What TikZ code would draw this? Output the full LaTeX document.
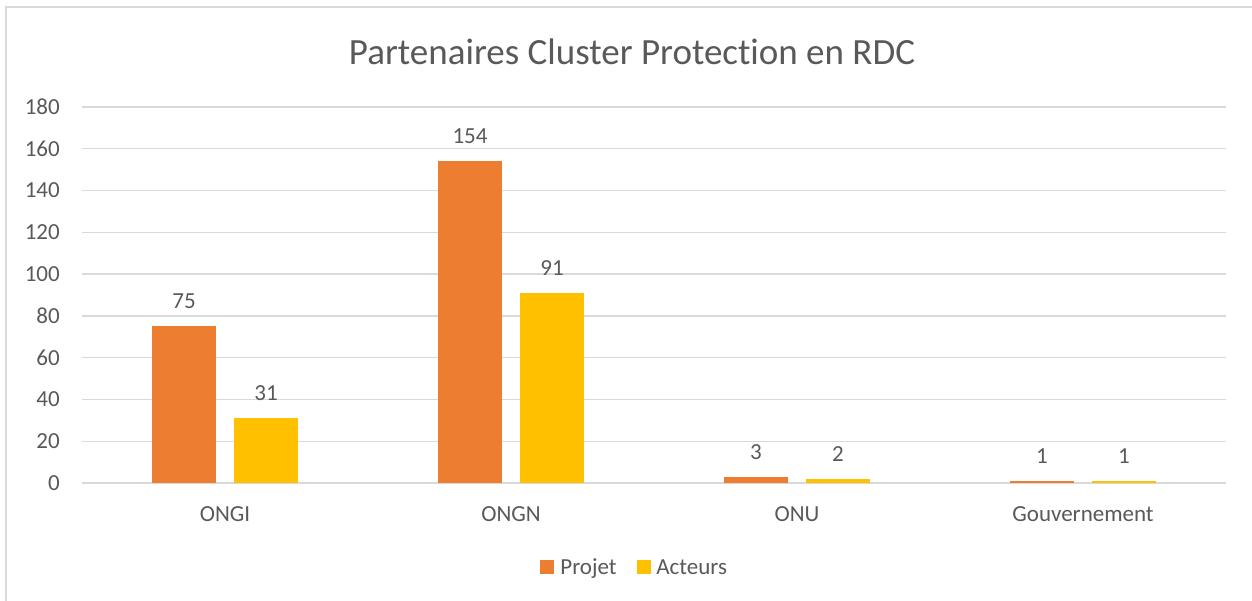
\documentclass[tikz,border=0pt]{standalone}
\usepackage{fontspec}
\setmainfont{Carlito}[Ligatures={NoCommon}]
\usetikzlibrary{positioning}

\definecolor{projet}{HTML}{ED7D31}
\definecolor{acteurs}{HTML}{FFC000}
\definecolor{gridgray}{HTML}{D9D9D9}
\definecolor{txtgray}{HTML}{595959}

\begin{document}
\begin{tikzpicture}[
  x=1pt, y=-1pt,
  charttext/.style={font=\fontsize{23}{28}\selectfont, text=txtgray, inner sep=0pt},
  legendtext/.style={charttext, text height=15pt, text depth=0pt},
  gridline/.style={draw=gridgray, line width=1.3pt},
  legendkey/.style={minimum size=14pt, inner sep=0pt},
  bar projet/.style={fill=projet},
  bar acteurs/.style={fill=acteurs}
]
  \useasboundingbox (0,0) rectangle (1252,601);
  % chart frame (cut by the page on the right and bottom)
  \draw[gridgray, line width=1.5pt] (6,601) -- (6,7) -- (1252,7);

  % title
  \node (title) [font=\fontsize{37}{44}\selectfont, text=txtgray] at (632,52) {Partenaires Cluster Protection en RDC};

  % value axis and grid
  \foreach \v in {0,20,...,180} {
    \draw[gridline] (82,{483-2.089*\v}) -- (1226,{483-2.089*\v});
    \node (tick-\v) [charttext, anchor=east] at (60,{483-2.089*\v}) {\v};
  }

  % bars, values and categories
  \foreach \cat/\p/\a [count=\i from 0] in {ONGI/75/31, ONGN/154/91, ONU/3/2, Gouvernement/1/1} {
    \pgfmathsetmacro{\c}{225+286*\i}
    \fill[bar projet] ({\c-73},483) rectangle ({\c-9},{483-2.089*\p});
    \fill[bar acteurs] ({\c+9},483) rectangle ({\c+73},{483-2.089*\a});
    \node (val-projet-\i) [charttext] at ({\c-41},{458-2.089*\p}) {\p};
    \node (val-acteurs-\i) [charttext] at ({\c+41},{458-2.089*\a}) {\a};
    \node (cat-\i) [charttext] at (\c,514) {\cat};
  }

  % legend
  \node (key-projet) [legendkey, fill=projet] at (547,567) {};
  \node (lbl-projet) [legendtext, right=6pt of key-projet] {Projet};
  \node (key-acteurs) [legendkey, fill=acteurs, right=20pt of lbl-projet] {};
  \node (lbl-acteurs) [legendtext, right=5pt of key-acteurs] {Acteurs};
\end{tikzpicture}
\end{document}
